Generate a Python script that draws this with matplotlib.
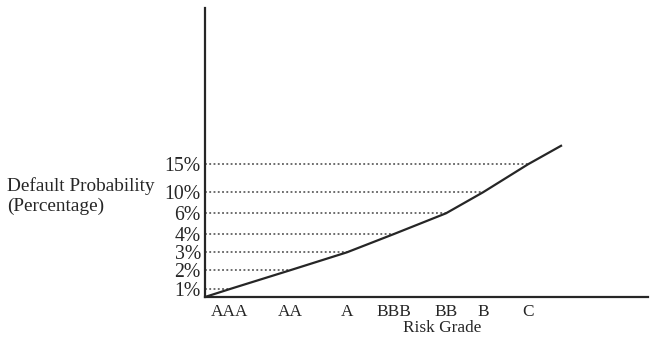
import numpy as np
import matplotlib
matplotlib.use("Agg")
import matplotlib.pyplot as plt

# ---- data ----
grades = ["AAA", "AA", "A", "BBB", "BB", "B", "C"]
default_pct = [1, 2, 3, 4, 6, 10, 15]
curve_start_pct = 0.0
curve_end_pct = 18.4
y_tick_labels = ["1%", "2%", "3%", "4%", "6%", "10%", "15%"]

# ---- layout of the schematic (category / tick positions) ----
grade_pos = [25, 85, 142, 189, 241, 278, 323]
curve_start_x = 0
curve_end_x = 357
# vertical layout of the percentage ticks (schematic, non-linear)
scale_pct = [0, 1, 2, 3, 4, 6, 10, 15, 60]
scale_pos = [0, 8, 26.7, 44.7, 63, 83.7, 104.7, 132.7, 132.7 + 45 * 28 / 5]

def fwd(v):
    return np.interp(v, scale_pct, scale_pos)

def inv(v):
    return np.interp(v, scale_pos, scale_pct)

plt.rcParams['font.family'] = ['Liberation Serif', 'DejaVu Serif']
ink = '#262626'

W, H = 652, 337
fig = plt.figure(figsize=(W / 100, H / 100), dpi=100)
ax = fig.add_axes([205 / W, 1 - 297 / H, (648 - 205) / W, (297 - 8) / H])
ax.set_yscale('function', functions=(fwd, inv))

xs = [curve_start_x] + grade_pos + [curve_end_x]
ys = [curve_start_pct] + default_pct + [curve_end_pct]
ax.plot(xs, ys, color=ink, lw=1.6, solid_capstyle='butt', clip_on=False, zorder=3)

ax.hlines(default_pct, 0, grade_pos, colors='#444444', linestyles=(0, (1.2, 1.6)), lw=1.1)

ax.set_xlim(0, 443)
ax.set_ylim(0, inv(289))

ax.set_xticks(grade_pos)
ax.set_xticklabels(grades, fontsize=12.4, color=ink)
ax.set_yticks(default_pct)
ax.set_yticklabels(y_tick_labels, fontsize=14.2, color=ink)
ax.tick_params(axis='both', length=0)
ax.tick_params(axis='x', pad=5)
ax.tick_params(axis='y', pad=3)
ax.yaxis.set_minor_locator(matplotlib.ticker.NullLocator())

for s in ['top', 'right']:
    ax.spines[s].set_visible(False)
for s in ['left', 'bottom']:
    ax.spines[s].set_color(ink)
    ax.spines[s].set_linewidth(1.6)

ax.set_xlabel("Risk Grade", fontsize=12.4, color=ink)
ax.xaxis.set_label_coords((442 - 205) / (648 - 205), -(328 - 297) / (297 - 8))
ax.xaxis.label.set_va('center')

fig.text(7 / W, 1 - 196 / H, "Default Probability\n(Percentage)", fontsize=13.9,
         color=ink, ha='left', va='center', linespacing=1.2)

fig.savefig("out.png", dpi=100, facecolor='white')
